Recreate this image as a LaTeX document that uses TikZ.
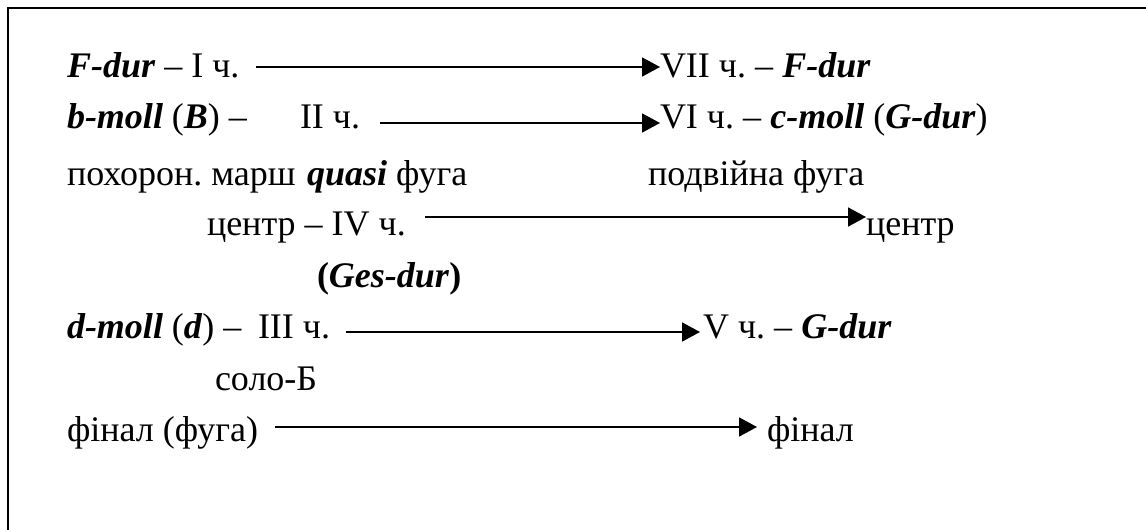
\documentclass[tikz,border=0pt]{standalone}
\usepackage{fontspec}
\setmainfont{Liberation Serif}
\usetikzlibrary{arrows.meta, positioning}

\newcommand{\tonart}[1]{\textbf{\textit{#1}}}
\frenchspacing

\begin{document}
\begin{tikzpicture}[x=1pt, y=1pt,
  txt/.style={anchor=base west, inner sep=0pt, outer sep=0pt,
              font=\fontsize{36}{43}\selectfont},
  arr/.style={-{Triangle[length=18pt, width=19pt]}, line width=1.8pt}
]
  \useasboundingbox (0,0) rectangle (1146,-530);
  \draw[line width=2.6pt] (8,-530) -- (8,-8) -- (1146,-8);

  % left column
  \node[txt] (p1) at (67,-77) {\tonart{F-dur} – I ч.};
  \node[txt] (p2a) at (67,-128) {\tonart{b-moll} (\tonart{B}) –};
  \node[txt] (p2) at (300,-128) {II ч.};
  \node[txt] (march) at (67,-185) {похорон. марш};
  \node[txt] (quasi) at (307,-185) {\tonart{quasi} фуга};
  \node[txt] (p4) at (207,-235) {центр – IV ч.};
  \node[txt] (ges) at (317,-287) {\textbf{(\textit{Ges-dur})}};
  \node[txt] (p3a) at (67,-338) {\tonart{d-moll} (\tonart{d}) –};
  \node[txt] (p3) at (258,-338) {III ч.};
  \node[txt] (solo) at (215,-390) {соло-Б};
  \node[txt] (fin1) at (67,-441) {фінал (фуга)};

  % right column
  \node[txt] (p7) at (660,-77) {VII ч. – \tonart{F-dur}};
  \node[txt] (p6) at (660,-128) {VI ч. – \tonart{c-moll} (\tonart{G-dur})};
  \node[txt] (dfuga) at (648,-185) {подвійна фуга};
  \node[txt] (centre) at (866,-235) {центр};
  \node[txt] (p5) at (703,-338) {V ч. – \tonart{G-dur}};
  \node[txt] (fin2) at (767,-441) {фінал};

  \draw[arr] ([xshift=17pt, yshift=10pt]p1.base east) -- ([yshift=10pt]p7.base west);
  \draw[arr] ([xshift=20pt, yshift=5pt]p2.base east) -- ([yshift=5pt]p6.base west);
  \draw[arr] ([xshift=19pt, yshift=18pt]p4.base east) -- ([yshift=18pt]centre.base west);
  \draw[arr] ([xshift=16pt, yshift=6pt]p3.base east) -- ([xshift=-3pt, yshift=6pt]p5.base west);
  \draw[arr] ([xshift=17pt, yshift=14pt]fin1.base east) -- ([xshift=-10pt, yshift=14pt]fin2.base west);
\end{tikzpicture}
\end{document}
